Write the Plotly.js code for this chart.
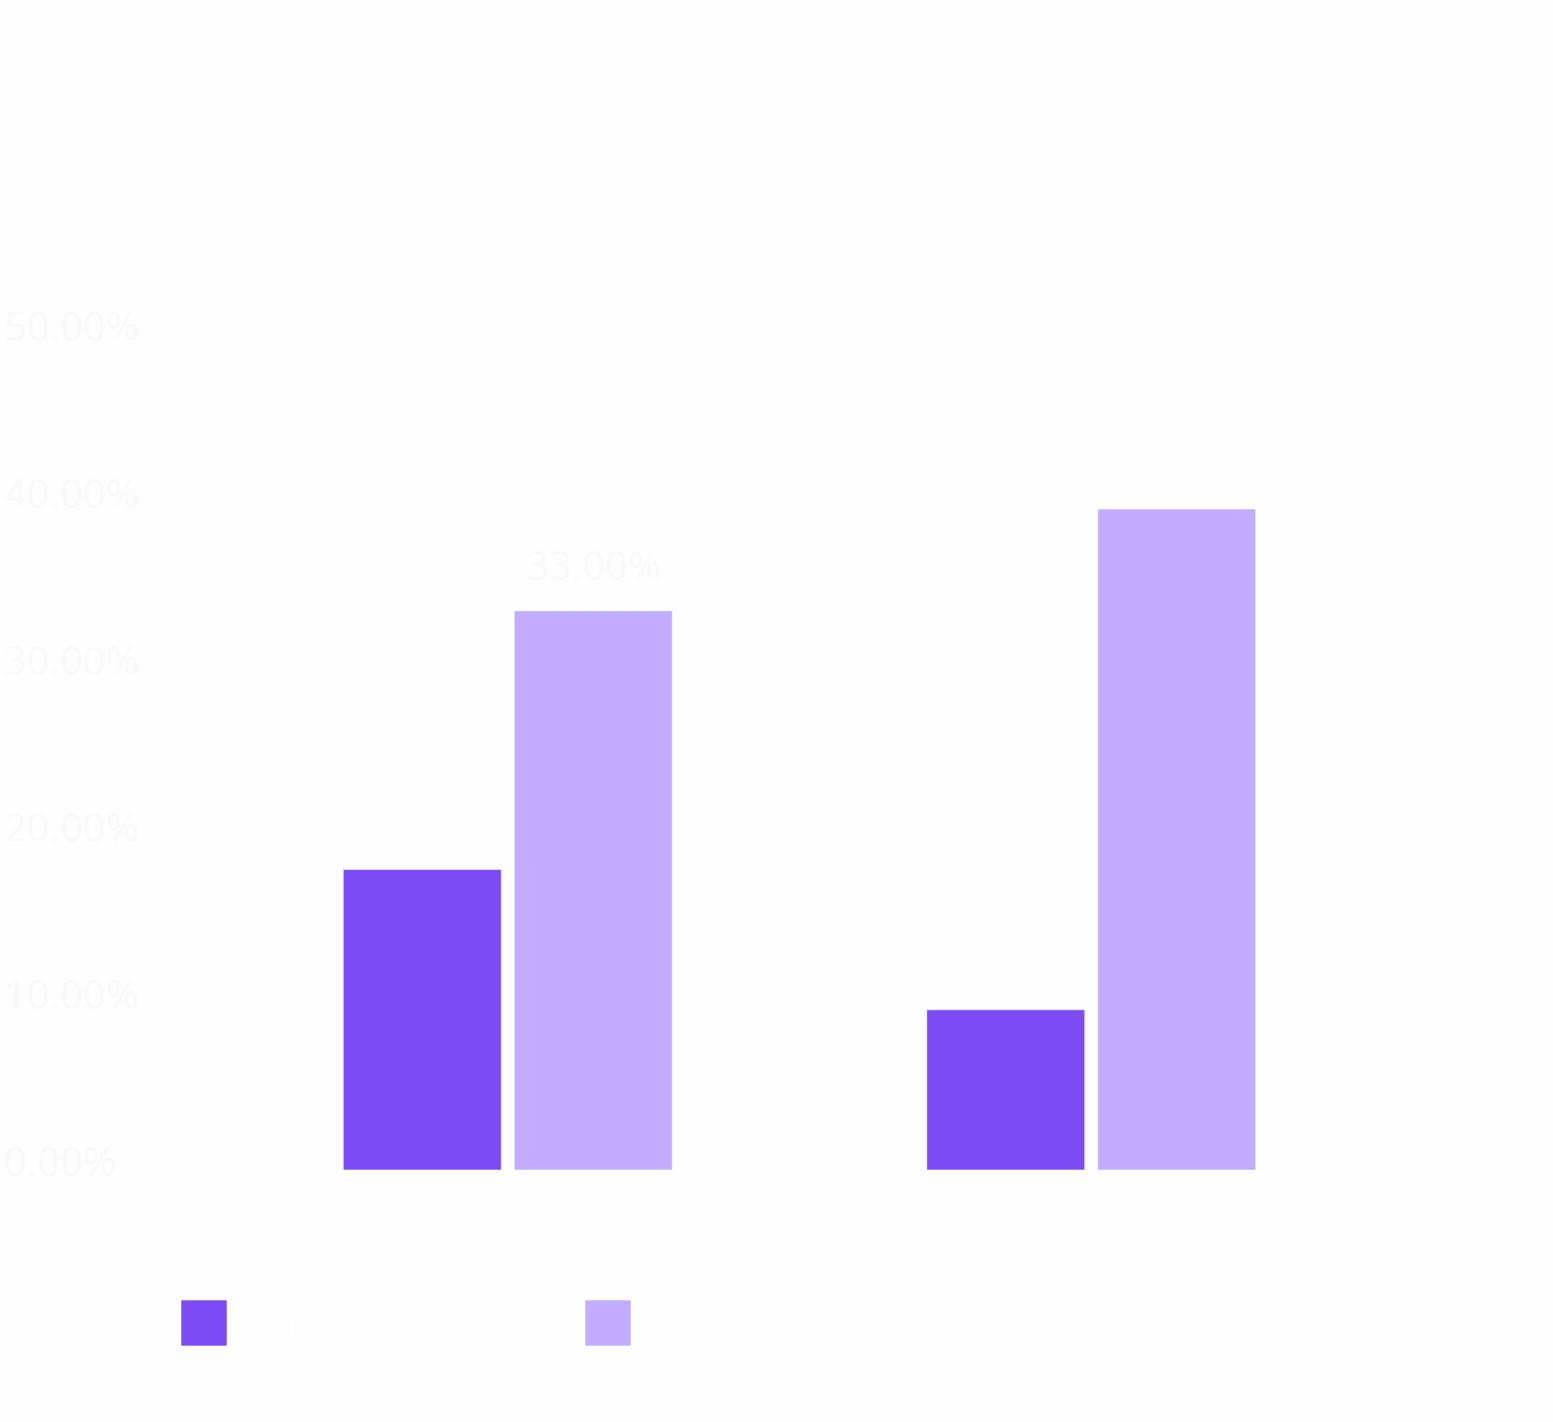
<!DOCTYPE html>
<html>
<head>
<meta charset="utf-8">
<script src="https://cdn.plot.ly/plotly-3.0.1.min.js"></script>
<style>
  html, body { margin: 0; padding: 0; background: #fefefe; }
  #chart { width: 1553px; height: 1422px; }
</style>
</head>
<body>
<div id="chart"></div>
<script>
/* ── Grouped bar chart (Plotly.js) ── */

const CATEGORIES = ['Group A', 'Group B'];
const SERIES_NAMES = ['Series 1', 'Series 2'];
const DARK_VALUES = [0.180, 0.096];
const LIGHT_VALUES = [0.335, 0.396];
const LIGHT_CALLOUTS = ['33.00%', ''];
const Y_TICKS = [0, 0.1, 0.2, 0.3, 0.4, 0.5];

const COLORS = ['#7d4bf4', '#c3abfe'];
const FAINT = '#fcf9fa';
const FONT = 'Open Sans, sans-serif';

const W = 1553, H = 1422;
const M = { l: 0, r: 170, t: 252, b: 252 };
const PLOT_W = W - M.l - M.r, PLOT_H = H - M.t - M.b;

// pixel -> paper helpers for the hand-drawn legend
const px = x => (x - M.l) / PLOT_W;
const py = y => (H - M.b - y) / PLOT_H;

const barLine = { color: 'rgba(255,255,255,0.55)', width: 1 };

const traces = [
    {
        type: 'bar', x: CATEGORIES, y: DARK_VALUES, name: SERIES_NAMES[0],
        marker: { color: COLORS[0], line: barLine },
        hoverinfo: 'skip',
    },
    {
        type: 'bar', x: CATEGORIES, y: LIGHT_VALUES, name: SERIES_NAMES[1],
        marker: { color: COLORS[1], line: barLine },
        hoverinfo: 'skip',
    },
];

const annotations = [];
LIGHT_CALLOUTS.forEach((t, i) => {
    if (!t) return;
    annotations.push({
        x: CATEGORIES[i], y: LIGHT_VALUES[i], xref: 'x', yref: 'y',
        text: t, showarrow: false, xanchor: 'center', yanchor: 'bottom',
        xshift: 86, yshift: 17,
        font: { family: FONT, size: 40, color: FAINT },
    });
});

// Legend drawn by hand (Plotly caps swatch size)
const shapes = [];
const LEGEND_X = [181, 585];
SERIES_NAMES.forEach((name, i) => {
    shapes.push({
        type: 'rect', xref: 'paper', yref: 'paper',
        x0: px(LEGEND_X[i]), x1: px(LEGEND_X[i] + 46),
        y0: py(1346), y1: py(1300),
        fillcolor: COLORS[i], line: { color: 'rgba(255,255,255,0.55)', width: 1 },
    });
    annotations.push({
        x: px(LEGEND_X[i] + 62), y: py(1323), xref: 'paper', yref: 'paper',
        text: name, showarrow: false, xanchor: 'left', yanchor: 'middle',
        font: { family: FONT, size: 38, color: '#ffffff' },
    });
});

const layout = {
    width: W, height: H,
    margin: M,
    paper_bgcolor: '#fefefe',
    plot_bgcolor: '#fefefe',
    barmode: 'group',
    bargap: 0.414,
    bargroupgap: 0.076,
    showlegend: false,
    font: { family: FONT, color: '#ffffff' },
    xaxis: {
        domain: [px(216), 1],
        range: [-0.5, 1.5],
        showgrid: false, zeroline: false, showline: false, ticks: '',
        tickfont: { family: FONT, size: 38, color: '#ffffff' },
    },
    yaxis: {
        range: [0, 0.55],
        anchor: 'free', position: 0,
        tickvals: Y_TICKS, tickformat: '.2%',
        ticklabelposition: 'inside',
        ticklabeloverflow: 'allow',
        ticklabelshift: -8,
        showgrid: false, zeroline: false, showline: false, ticks: '',
        tickfont: { family: FONT, size: 40, color: FAINT },
    },
    shapes,
    annotations,
};

Plotly.newPlot('chart', traces, layout, { displayModeBar: false, staticPlot: true });
</script>
</body>
</html>
